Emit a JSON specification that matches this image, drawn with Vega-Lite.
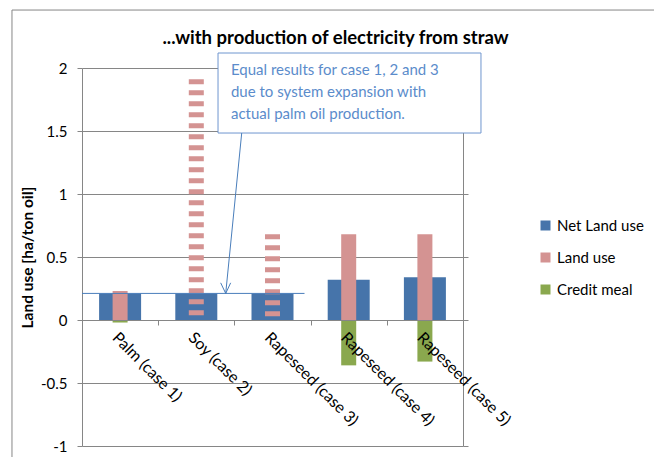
{
  "$schema": "https://vega.github.io/schema/vega-lite/v6.json",
  "width": 381,
  "height": 378,
  "autosize": {"type": "none"},
  "padding": {"left": 82, "top": 68, "right": 191, "bottom": 11},
  "background": "white",
  "config": {
    "font": "Lato",
    "view": {"stroke": null},
    "axis": {"domainColor": "#868686", "tickColor": "#868686", "gridColor": "#868686", "labelColor": "#000000", "titleColor": "#000000", "tickSize": 5, "labelFontSize": 15, "labelFont": "Lato"}
  },
  "title": {"text": "...with production of electricity from straw", "fontSize": 18.5, "fontWeight": "bold", "font": "Lato", "color": "#000000", "anchor": "middle", "frame": "group", "dx": 63, "offset": 0, "dy": 38},
  "data": {
    "values": [
      {"case": "Palm (case 1)", "series": "Net Land use", "value": 0.21, "hatched": false},
      {"case": "Palm (case 1)", "series": "Land use", "value": 0.23, "hatched": false},
      {"case": "Palm (case 1)", "series": "Credit meal", "value": -0.02, "hatched": false},
      {"case": "Soy (case 2)", "series": "Net Land use", "value": 0.21, "hatched": false},
      {"case": "Soy (case 2)", "series": "Land use", "value": 1.91, "hatched": true},
      {"case": "Rapeseed (case 3)", "series": "Net Land use", "value": 0.21, "hatched": false},
      {"case": "Rapeseed (case 3)", "series": "Land use", "value": 0.68, "hatched": true},
      {"case": "Rapeseed (case 4)", "series": "Net Land use", "value": 0.32, "hatched": false},
      {"case": "Rapeseed (case 4)", "series": "Land use", "value": 0.68, "hatched": false},
      {"case": "Rapeseed (case 4)", "series": "Credit meal", "value": -0.36, "hatched": false},
      {"case": "Rapeseed (case 5)", "series": "Net Land use", "value": 0.34, "hatched": false},
      {"case": "Rapeseed (case 5)", "series": "Land use", "value": 0.68, "hatched": false},
      {"case": "Rapeseed (case 5)", "series": "Credit meal", "value": -0.33, "hatched": false}
    ]
  },
  "layer": [
    {
      "transform": [{"filter": "datum.series === 'Net Land use'"}],
      "mark": {"type": "bar", "size": 42},
      "encoding": {
        "x": {"field": "case", "type": "nominal", "sort": null,
          "scale": {"domain": ["Palm (case 1)", "Soy (case 2)", "Rapeseed (case 3)", "Rapeseed (case 4)", "Rapeseed (case 5)"], "paddingInner": 0, "paddingOuter": 0},
          "axis": {"title": null, "offset": -126, "labelAngle": 45, "tickBand": "extent", "labelPadding": 4, "labelFontSize": 16, "zindex": 1}},
        "y": {"field": "value", "type": "quantitative",
          "scale": {"domain": [-1, 2], "nice": false, "zero": false},
          "axis": {"title": "Land use [ha/ton oil]", "titleFontSize": 15.5, "titleFontWeight": "bold", "titleFont": "Lato", "values": [-1, -0.5, 0, 0.5, 1, 1.5, 2], "labelExpr": "'' + datum.value", "grid": true, "labelPadding": 10, "titlePadding": 5}},
        "color": {"field": "series", "type": "nominal",
          "scale": {"domain": ["Net Land use", "Land use", "Credit meal"], "range": ["#4674AA", "#D49392", "#8AA84E"]},
          "legend": {"title": null, "orient": "none", "legendX": 456, "legendY": 150, "symbolType": "square", "symbolSize": 100, "symbolStrokeWidth": 0, "labelFontSize": 15, "labelFont": "Lato", "labelColor": "#000000", "rowPadding": 16, "labelOffset": 4}}
      }
    },
    {
      "transform": [{"filter": "datum.series === 'Land use' && !datum.hatched"}],
      "mark": {"type": "bar", "size": 15},
      "encoding": {
        "x": {"field": "case", "type": "nominal", "sort": null, "scale": {"domain": ["Palm (case 1)", "Soy (case 2)", "Rapeseed (case 3)", "Rapeseed (case 4)", "Rapeseed (case 5)"], "paddingInner": 0, "paddingOuter": 0}, "axis": null},
        "y": {"field": "value", "type": "quantitative", "axis": null},
        "color": {"field": "series", "type": "nominal"}
      }
    },
    {
      "transform": [{"filter": "datum.hatched"}],
      "mark": {"type": "rule", "strokeWidth": 15, "strokeDash": [5, 6], "stroke": "#D49392"},
      "encoding": {
        "x": {"field": "case", "type": "nominal", "sort": null, "scale": {"domain": ["Palm (case 1)", "Soy (case 2)", "Rapeseed (case 3)", "Rapeseed (case 4)", "Rapeseed (case 5)"], "paddingInner": 0, "paddingOuter": 0}, "axis": null},
        "y": {"field": "value", "type": "quantitative", "axis": null},
        "y2": {"datum": 0}
      }
    },
    {
      "transform": [{"filter": "datum.series === 'Credit meal'"}],
      "mark": {"type": "bar", "size": 15},
      "encoding": {
        "x": {"field": "case", "type": "nominal", "sort": null, "scale": {"domain": ["Palm (case 1)", "Soy (case 2)", "Rapeseed (case 3)", "Rapeseed (case 4)", "Rapeseed (case 5)"], "paddingInner": 0, "paddingOuter": 0}, "axis": null},
        "y": {"field": "value", "type": "quantitative", "axis": {"orient": "right", "labels": false, "grid": false, "title": null, "values": [-1, -0.5, 0, 0.5, 1, 1.5, 2]}},
        "color": {"field": "series", "type": "nominal"}
      }
    },
    {
      "data": {"values": [{}]},
      "mark": {"type": "rule", "color": "#4A7EBB", "strokeWidth": 1},
      "encoding": {
        "x": {"datum": 0, "type": "quantitative", "scale": {"domain": [0, 5], "nice": false, "zero": false}, "axis": null},
        "x2": {"datum": 2.92},
        "y": {"datum": 0.211, "type": "quantitative", "axis": null},
        "y2": {"datum": 0.211}
      }
    },
    {
      "data": {"values": [{}]},
      "mark": {"type": "rect", "fill": "white", "stroke": "#6F96CF", "strokeWidth": 1},
      "encoding": {
        "x": {"datum": 1.785, "type": "quantitative", "scale": {"domain": [0, 5], "nice": false, "zero": false}, "axis": null},
        "x2": {"datum": 5.236},
        "y": {"datum": 2.119, "type": "quantitative", "axis": null},
        "y2": {"datum": 1.484}
      }
    },
    {
      "data": {"values": [{}]},
      "mark": {"type": "text", "text": ["Equal results for case 1, 2 and 3", "due to system expansion with", "actual palm oil production."], "align": "left", "baseline": "top", "fontSize": 15, "font": "Lato", "lineHeight": 22, "color": "#5B8CCB"},
      "encoding": {
        "x": {"datum": 1.955, "type": "quantitative", "scale": {"domain": [0, 5], "nice": false, "zero": false}, "axis": null},
        "y": {"datum": 2.04, "type": "quantitative", "axis": null}
      }
    },
    {
      "data": {"values": [{}]},
      "mark": {"type": "rule", "color": "#4A7EBB", "strokeWidth": 1},
      "encoding": {
        "x": {"datum": 2.096, "type": "quantitative", "scale": {"domain": [0, 5], "nice": false, "zero": false}, "axis": null},
        "x2": {"datum": 1.886},
        "y": {"datum": 1.484, "type": "quantitative", "axis": null},
        "y2": {"datum": 0.211}
      }
    },
    {
      "data": {"values": [{}]},
      "mark": {"type": "rule", "color": "#4A7EBB", "strokeWidth": 1},
      "encoding": {
        "x": {"datum": 1.886, "type": "quantitative", "scale": {"domain": [0, 5], "nice": false, "zero": false}, "axis": null},
        "x2": {"datum": 1.82},
        "y": {"datum": 0.211, "type": "quantitative", "axis": null},
        "y2": {"datum": 0.295}
      }
    },
    {
      "data": {"values": [{}]},
      "mark": {"type": "rule", "color": "#4A7EBB", "strokeWidth": 1},
      "encoding": {
        "x": {"datum": 1.886, "type": "quantitative", "scale": {"domain": [0, 5], "nice": false, "zero": false}, "axis": null},
        "x2": {"datum": 1.951},
        "y": {"datum": 0.211, "type": "quantitative", "axis": null},
        "y2": {"datum": 0.295}
      }
    },
    {
      "data": {"values": [{}]},
      "mark": {"type": "rule", "color": "#868686", "strokeWidth": 1},
      "encoding": {
        "x": {"datum": -0.919, "type": "quantitative", "scale": {"domain": [0, 5], "nice": false, "zero": false}, "axis": null},
        "x2": {"datum": -0.919},
        "y": {"datum": 2.46, "type": "quantitative", "axis": null},
        "y2": {"datum": -1.2}
      }
    },
    {
      "data": {"values": [{}]},
      "mark": {"type": "rule", "color": "#868686", "strokeWidth": 1},
      "encoding": {
        "x": {"datum": -0.919, "type": "quantitative", "scale": {"domain": [0, 5], "nice": false, "zero": false}, "axis": null},
        "x2": {"datum": 7.6},
        "y": {"datum": 2.46, "type": "quantitative", "axis": null},
        "y2": {"datum": 2.46}
      }
    }
  ],
  "resolve": {"scale": {"x": "independent"}, "axis": {"x": "independent", "y": "independent"}}
}
